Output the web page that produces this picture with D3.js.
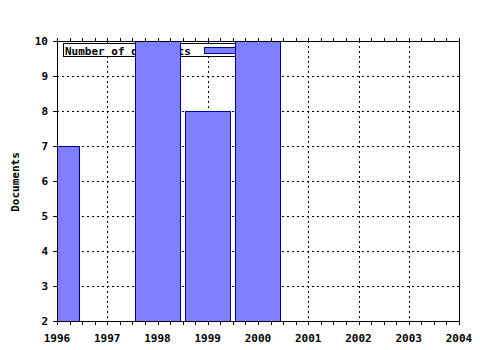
<!DOCTYPE html>
<html>
<head>
<meta charset="utf-8">
<script src="https://cdn.jsdelivr.net/npm/d3@7"></script>
<style>
  body { margin: 0; background: #fff; }
  text { font-family: "DejaVu Sans Mono", monospace; font-weight: bold; font-size: 11px; }
</style>
</head>
<body>
<svg width="480" height="350"></svg>
<script>
// data
const years = [1996, 1997, 1998, 1999, 2000];
const docs = [7, 0, 10, 8, 10];
const yTicks = [2, 3, 4, 5, 6, 7, 8, 9, 10];
const xTicks = [1996, 1997, 1998, 1999, 2000, 2001, 2002, 2003, 2004];
const seriesName = "Number of documents";

const svg = d3.select("svg");
const pL = 57, pR = 459, pT = 41, pB = 321;

const x = d3.scaleLinear().domain([1996, 2004]).range([pL, pR]);
const y = d3.scaleLinear().domain([2, 10]).range([pB, pT]);
const barW = (x(1997) - x(1996)) * 0.9;

svg.append("defs").append("clipPath").attr("id", "plot")
  .append("rect").attr("x", pL).attr("y", pT).attr("width", pR - pL).attr("height", pB - pT);

// grid
const g = svg.append("g").attr("shape-rendering", "crispEdges");
g.selectAll(".vgrid").data(xTicks.slice(1, -1)).enter().append("line")
  .attr("x1", d => Math.round(x(d)) + 0.5).attr("x2", d => Math.round(x(d)) + 0.5)
  .attr("y1", pT).attr("y2", pB)
  .attr("stroke", "#000").attr("stroke-dasharray", "2,3");
g.selectAll(".hgrid").data(yTicks.slice(1, -1)).enter().append("line")
  .attr("y1", d => Math.round(y(d)) + 0.5).attr("y2", d => Math.round(y(d)) + 0.5)
  .attr("x1", pL).attr("x2", pR)
  .attr("stroke", "#000").attr("stroke-dasharray", "2,3");

// legend (behind bars)
const lg = svg.append("g").attr("shape-rendering", "crispEdges");
lg.append("rect").attr("x", 63.5).attr("y", 43.5).attr("width", 177).attr("height", 13)
  .attr("fill", "#fff").attr("stroke", "#000");
lg.append("text").attr("x", 65).attr("y", 55).text(seriesName);
lg.append("rect").attr("x", 204.5).attr("y", 47.5).attr("width", 32).attr("height", 6)
  .attr("fill", "#8080ff").attr("stroke", "#000099");

// bars
svg.append("g").attr("clip-path", "url(#plot)").attr("shape-rendering", "crispEdges")
  .selectAll("rect").data(years.map((d, i) => ({year: d, v: docs[i]})).filter(d => d.v > 2))
  .enter().append("rect")
  .attr("x", d => Math.round(x(d.year) - barW / 2) + 0.5)
  .attr("y", d => Math.round(y(d.v)) + 0.5)
  .attr("width", Math.round(barW))
  .attr("height", d => Math.round(y(2) - y(d.v)))
  .attr("fill", "#8080ff").attr("stroke", "#000099");

// frame + axes
const ax = svg.append("g").attr("shape-rendering", "crispEdges").attr("stroke", "#000");
ax.append("rect").attr("x", pL + 0.5).attr("y", pT + 0.5)
  .attr("width", pR - pL).attr("height", pB - pT).attr("fill", "none");

const minor = d3.range(1996, 2004.01, 0.25);
ax.selectAll(".tb").data(minor).enter().append("line")
  .attr("x1", d => Math.round(x(d)) + 0.5).attr("x2", d => Math.round(x(d)) + 0.5)
  .attr("y1", pB).attr("y2", pB + 4);
ax.selectAll(".tt").data(minor).enter().append("line")
  .attr("x1", d => Math.round(x(d)) + 0.5).attr("x2", d => Math.round(x(d)) + 0.5)
  .attr("y1", pT - 3).attr("y2", pT);
ax.selectAll(".tl").data(yTicks).enter().append("line")
  .attr("y1", d => Math.round(y(d)) + 0.5).attr("y2", d => Math.round(y(d)) + 0.5)
  .attr("x1", pL - 4).attr("x2", pL);

svg.selectAll(".xl").data(xTicks).enter().append("text")
  .attr("x", d => x(d)).attr("y", 342).attr("text-anchor", "middle").text(d => d);
svg.selectAll(".yl").data(yTicks).enter().append("text")
  .attr("x", 48).attr("y", d => y(d) + 4).attr("text-anchor", "end").text(d => d);

svg.append("text").attr("transform", "translate(19,182) rotate(-90)")
  .attr("text-anchor", "middle").text("Documents");
</script>
</body>
</html>
